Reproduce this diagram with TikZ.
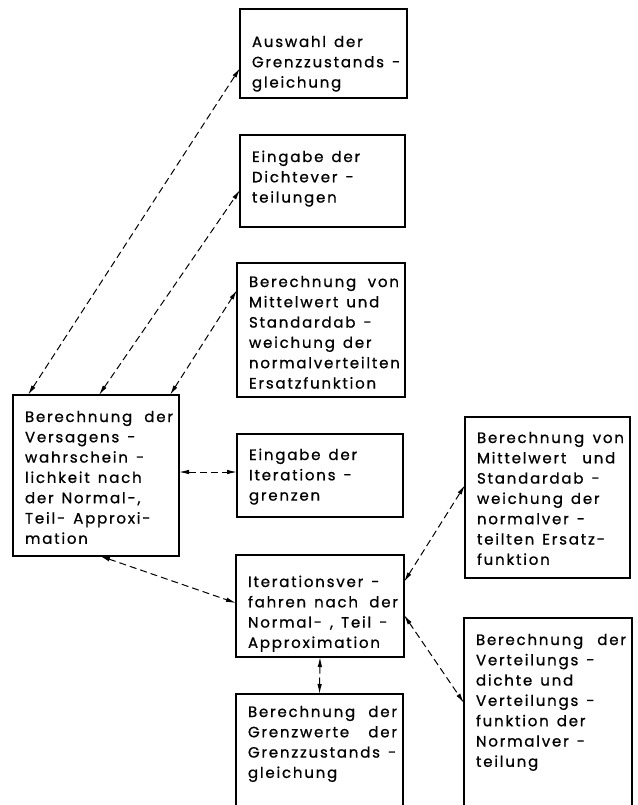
\documentclass[tikz,border=0pt]{standalone}
\usepackage{fontspec}
\setmainfont{Poppins}[LetterSpace=12,FakeBold=0.8]
\usetikzlibrary{arrows.meta,calc}
\newcommand\fullline[2]{\leavevmode\hbox to \dimexpr\hsize-6pt\relax{#1\hfill #2}}
\begin{document}
\begin{tikzpicture}[x=1pt,y=-1pt,
  box/.style={draw, line width=1.8pt, outer sep=0pt, inner xsep=6pt, inner ysep=0pt,
    anchor=north west,
    font=\fontsize{15pt}{20.3pt}\selectfont,
    execute at begin node={\leftskip=6pt\rightskip=0pt plus 1fil\parfillskip=0pt plus 1fil\baselineskip=20.3pt\spaceskip=8pt plus 2pt minus 1pt}},
  link/.style={line width=1pt, dash pattern=on 7pt off 4pt,
    {Latex[length=10pt,width=4.5pt]}-{Latex[length=10pt,width=4.5pt]}}]
\useasboundingbox (0,0) rectangle (637,805);
\fill[white] (0,0) rectangle (637,805);
\clip (0,0) rectangle (637,805);

\node[box, text width=155pt, text height=38pt, text depth=51pt] (b1) at (240,9)
  {Auswahl der\\Grenzzustands -\\gleichung};
\node[box, text width=153pt, text height=27pt, text depth=65pt] (b2) at (240,135)
  {Eingabe der\\Dichtever -\\teilungen};
\node[box, text width=156pt, text height=24pt, text depth=110pt] (b3) at (237,263)
  {\fullline{Berechnung}{von}\\Mittelwert und\\Standardab -\\weichung der\\normalverteilten\\Ersatzfunktion};
\node[box, text width=154pt, text height=27pt, text depth=134pt] (L) at (13,395)
  {\fullline{Berechnung}{der}\\Versagens -\\wahrschein -\\lichkeit nach\\der Normal-,\\Teil- Approxi-\\mation};
\node[box, text width=154pt, text height=26pt, text depth=57pt] (b4) at (237,434)
  {Eingabe der\\Iterations -\\grenzen};
\node[box, text width=156pt, text height=32pt, text depth=70pt] (b5) at (236,555)
  {Iterationsver -\\\fullline{fahren nach}{der}\\Normal- , Teil -\\Approximation};
\node[box, text width=155pt, text height=23pt, text depth=120pt] (b6) at (236,694)
  {\fullline{Berechnung}{der}\\\fullline{Grenzwerte}{der}\\Grenzzustands -\\gleichung};
\node[box, text width=153pt, text height=26pt, text depth=135pt] (r1) at (465,417)
  {\fullline{Berechnung}{von}\\Mittelwert\ \ und\\Standardab -\\weichung der\\normalver -\\teilten Ersatz-\\funktion};
\node[box, text width=156pt, text height=27pt, text depth=200pt] (r2) at (464,618)
  {\fullline{Berechnung}{der}\\Verteilungs -\\dichte und\\Verteilungs -\\funktion der\\Normalver -\\teilung};

\draw[link] ($(L.north west)+(15,0)$) -- ($(b1.north west)+(0,59)$);
\draw[link] ($(L.north west)+(86,0)$) -- ($(b2.north west)+(0,55)$);
\draw[link] ($(L.north west)+(157,0)$) -- ($(b3.north west)+(0,27)$);
\draw[link] ($(L.north east)+(0,77)$) -- ($(b4.north west)+(0,38)$);
\draw[link] ($(L.south west)+(87,0)$) -- ($(b5.north west)+(0,48)$);
\draw[link] (b5.south) -- (b6.north);
\draw[link] ($(b5.north east)+(0,27)$) -- ($(r1.north west)+(0,68)$);
\draw[link] ($(b5.north east)+(0,60)$) -- ($(r2.north west)+(0,85)$);
\end{tikzpicture}
\end{document}
